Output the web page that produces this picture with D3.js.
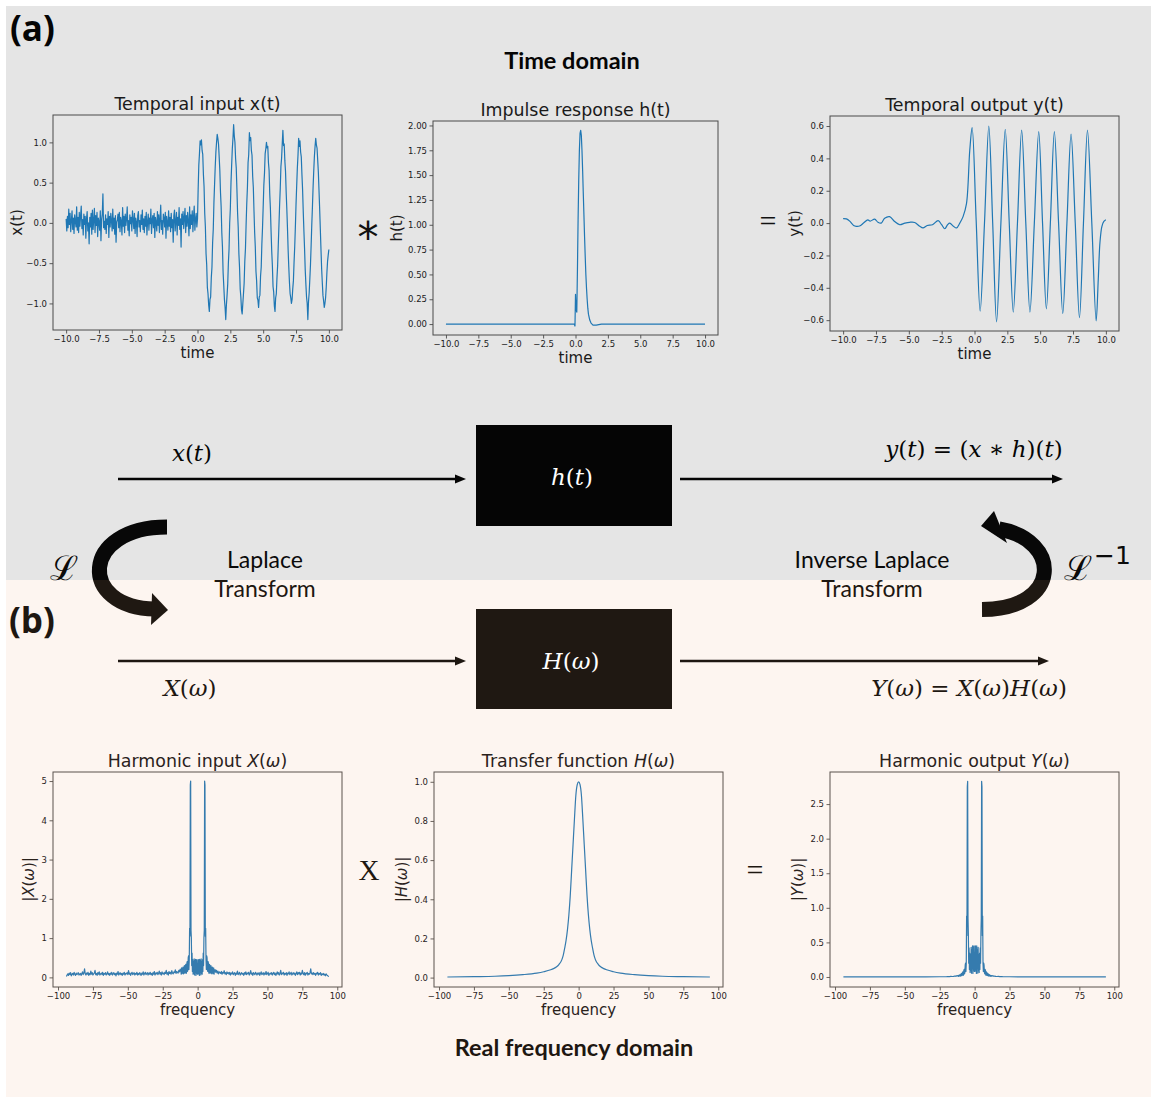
<!DOCTYPE html>
<html><head><meta charset="utf-8">
<script src="https://cdn.jsdelivr.net/npm/d3@7"></script>
<style>body{margin:0;background:#fff}svg{display:block}</style>
</head><body>
<svg id="c" width="1151" height="1097"></svg>
<script>
// ---------------- DATA ----------------
// x(t): sampled every 0.05 from t = -10 to 10
const T_START = -10, T_STEP = 0.05;
const xNoise = [
0.05,-0.10,0.08,-0.06,0.17,-0.02,0.12,-0.11,0.03,0.15,-0.08,0.06,-0.13,0.10,0.02,-0.05,0.20,-0.09,0.07,-0.12,
0.13,-0.04,0.09,0.21,-0.07,0.04,-0.15,0.11,-0.02,0.08,-0.19,0.05,0.14,-0.10,0.00,-0.26,0.07,-0.05,0.12,-0.14,
0.16,-0.08,0.03,0.18,-0.12,0.09,-0.03,0.13,-0.17,0.06,0.01,-0.09,0.15,-0.22,0.04,0.11,0.36,-0.06,0.02,-0.08,
0.10,-0.13,0.05,-0.02,0.14,-0.18,0.08,-0.05,0.12,0.03,-0.10,0.17,-0.07,0.06,-0.14,0.09,-0.24,0.01,0.04,0.11,
-0.06,0.13,-0.11,0.07,0.02,-0.15,0.19,-0.04,0.08,-0.12,0.11,-0.03,0.05,0.20,-0.09,0.03,-0.16,0.10,-0.01,0.07,
-0.10,0.15,0.04,-0.07,0.12,-0.13,0.06,0.01,-0.17,0.09,0.14,-0.05,0.03,-0.11,0.10,-0.02,0.16,-0.08,0.05,-0.12,
0.08,-0.04,0.13,-0.15,0.02,0.11,-0.09,0.06,-0.01,0.17,-0.13,0.04,0.09,-0.06,0.12,-0.18,0.07,0.01,-0.10,0.14,
-0.03,0.10,-0.12,0.05,0.22,-0.08,0.03,-0.14,0.11,0.06,-0.05,0.13,-0.19,0.08,0.00,-0.09,0.15,-0.04,0.07,-0.11,
0.12,-0.06,0.04,-0.24,0.09,0.16,-0.10,0.02,0.13,-0.15,0.07,-0.03,0.19,-0.08,0.05,-0.30,0.11,-0.02,0.14,-0.07,
0.06,0.18,-0.12,0.09,-0.04,0.13,0.02,-0.16,0.20,-0.07,0.10,-0.02,0.15,-0.11,0.08,0.21,-0.09,0.04,0.12,-0.05];
const xSignal = [
0.05,0.42,0.72,0.86,1.02,0.97,1.03,0.90,0.85,0.60,0.45,0.12,-0.05,-0.38,-0.52,-0.80,-0.88,-1.02,-1.10,-0.95,-0.92,-0.68,-0.55,-0.25,-0.08,
0.25,0.48,0.70,0.88,1.00,1.10,1.05,0.98,0.82,0.65,0.38,0.20,-0.12,-0.30,-0.62,-0.78,-0.95,-1.05,-1.20,-1.02,-0.90,-0.76,-0.50,-0.33,0.00,
0.18,0.50,0.72,0.92,1.05,1.22,1.08,1.00,0.80,0.68,0.42,0.13,-0.06,-0.38,-0.55,-0.82,-0.92,-1.08,-1.13,-1.00,-0.88,-0.75,-0.48,-0.32,-0.02,
0.24,0.44,0.75,0.85,1.12,1.02,1.06,0.90,0.84,0.58,0.44,0.15,-0.12,-0.30,-0.60,-0.72,-0.93,-0.96,-1.05,-0.92,-0.90,-0.66,-0.55,-0.26,-0.06,
0.20,0.47,0.62,0.86,0.92,1.00,0.93,0.95,0.75,0.65,0.36,0.18,-0.10,-0.35,-0.53,-0.79,-0.86,-1.03,-1.10,-0.93,-0.88,-0.68,-0.53,-0.27,-0.03,
0.22,0.43,0.70,0.80,0.98,1.15,0.96,0.98,0.77,0.64,0.38,0.17,-0.07,-0.34,-0.55,-0.74,-0.88,-0.93,-1.00,-0.95,-0.82,-0.72,-0.49,-0.30,-0.05,
0.23,0.46,0.68,0.84,1.05,0.95,1.02,0.88,0.82,0.60,0.41,0.14,-0.10,-0.32,-0.58,-0.76,-0.92,-1.00,-1.20,-0.98,-0.87,-0.70,-0.52,-0.28,-0.02,
0.20,0.45,0.65,0.83,0.95,1.05,0.97,0.93,0.78,0.63,0.40,0.17,-0.08,-0.33,-0.57,-0.74,-0.90,-0.97,-1.05,-1.00,-0.93,-0.80,-0.62,-0.48,-0.40,
-0.33];

// h(t)
const hT = [-10,-0.1,-0.04,0.0,0.05,0.1,0.15,0.2,0.25,0.3,0.35,0.4,0.45,0.5,0.55,0.6,0.65,0.7,0.75,0.8,0.85,0.9,0.95,1.0,1.1,1.2,1.35,1.6,2.0,10];
const hV = [0,0,-0.02,0.3,0.14,0.12,0.55,1.05,1.45,1.75,1.92,1.95,1.9,1.75,1.55,1.32,1.1,0.88,0.68,0.5,0.36,0.25,0.16,0.1,0.04,0.01,-0.01,-0.01,0,0];

// y(t)
const yT = [-10,-9.75,-9.5,-9.2,-9.0,-8.75,-8.45,-8.12,-7.94,-7.6,-7.35,-7.1,-6.84,-6.46,-6.08,-5.7,-5.3,-4.94,-4.55,-4.17,
-3.92,-3.6,-3.2,-2.77,-2.5,-2.26,-2.05,-1.88,-1.6,-1.37,-1.12,-0.87,-0.61,-0.36,-0.18,
0.125,0.43,0.76,1.09,1.385,1.68,2.01,2.34,2.645,2.95,3.27,3.59,3.905,4.22,4.555,4.89,5.18,5.47,5.775,6.08,
6.4,6.72,7.035,7.35,7.67,7.99,8.295,8.6,8.93,9.26,9.42,9.55,9.7,9.85,10];
const yV = [0.028,0.026,0.012,-0.015,-0.02,-0.018,0.0,0.02,0.012,0.025,0.005,0.0,0.03,0.04,0.01,-0.01,0.0,0.005,0.004,-0.02,
-0.03,-0.015,-0.01,0.015,-0.01,-0.035,-0.01,0.0,-0.02,-0.03,0.0,0.04,0.12,0.45,0.59,
0.02,-0.545,0.0,0.6,0.0,-0.61,0.0,0.58,0.0,-0.55,0.0,0.575,0.0,-0.55,0.0,0.565,0.0,-0.53,0.0,0.565,
0.0,-0.56,0.0,0.55,0.0,-0.585,0.0,0.575,0.0,-0.605,-0.35,-0.12,-0.02,0.01,0.02];

// |X(w)|: tails sampled every 0.5, core (-12..12) every 0.25
const XW_NEG_START = -94, XW_POS_START = 12.5, XW_TAIL_STEP = 0.5;
const XW_CORE_START = -12, XW_CORE_STEP = 0.25;
const xwNegTail = [
0.02,0.06,0.09,0.05,0.11,0.07,0.12,0.04,0.08,0.10,0.06,0.13,0.08,0.05,0.11,0.07,0.09,0.12,0.06,0.08,
0.10,0.05,0.09,0.14,0.07,0.11,0.22,0.09,0.06,0.11,0.08,0.13,0.05,0.10,0.07,0.16,0.08,0.12,0.06,0.09,
0.11,0.18,0.07,0.10,0.05,0.12,0.08,0.14,0.06,0.09,0.11,0.07,0.13,0.05,0.10,0.08,0.12,0.06,0.09,0.14,
0.07,0.10,0.05,0.11,0.08,0.13,0.06,0.09,0.12,0.07,0.10,0.04,0.11,0.08,0.15,0.06,0.09,0.12,0.07,0.10,
0.05,0.11,0.08,0.13,0.06,0.10,0.09,0.12,0.07,0.17,0.08,0.11,0.05,0.10,0.13,0.07,0.09,0.12,0.06,0.10,
0.08,0.13,0.06,0.10,0.07,0.12,0.09,0.05,0.11,0.08,0.14,0.06,0.10,0.13,0.07,0.09,0.12,0.06,0.11,0.08,
0.13,0.07,0.10,0.05,0.12,0.08,0.15,0.06,0.11,0.09,0.13,0.07,0.10,0.16,0.08,0.12,0.06,0.14,0.09,0.11,
0.07,0.13,0.10,0.18,0.08,0.12,0.06,0.15,0.10,0.13,0.08,0.17,0.11,0.09,0.14,0.12,0.19,0.10,0.15,0.13,
0.11,0.18,0.14,0.21];
const xwCore = [
0.15,0.08,0.24,0.10,0.12,0.22,0.26,0.09, 0.10,0.25,0.30,0.11,0.14,0.28,0.33,0.10,
0.12,0.35,0.40,0.15,0.20,0.50,0.55,0.20, 0.45,1.25,1.05,4.90,5.00,1.20,1.00,0.30,
0.62,0.15,0.45,0.08,0.40,0.10,0.47,0.06, 0.42,0.12,0.46,0.05,0.44,0.10,0.45,0.08,
0.30,
0.08,0.45,0.10,0.44,0.05,0.46,0.12,0.42, 0.06,0.47,0.10,0.40,0.08,0.45,0.15,0.62,
0.30,1.00,1.20,5.00,4.90,1.05,1.25,0.45, 0.20,0.55,0.50,0.20,0.15,0.40,0.35,0.12,
0.10,0.33,0.28,0.14,0.11,0.30,0.25,0.10, 0.09,0.26,0.22,0.12,0.10,0.24,0.08,0.15];
const xwPosTail = [
0.20,0.13,0.18,0.11,0.16,0.09,0.14,0.12,0.10,0.15,0.08,0.13,0.11,0.17,0.09,0.12,0.07,0.14,0.10,0.12,
0.08,0.13,0.06,0.11,0.09,0.14,0.07,0.10,0.12,0.05,0.11,0.08,0.16,0.07,0.10,0.13,0.06,0.09,0.12,0.08,
0.10,0.05,0.12,0.08,0.14,0.07,0.11,0.09,0.13,0.06,0.10,0.17,0.08,0.11,0.05,0.12,0.09,0.07,0.13,0.10,
0.06,0.11,0.08,0.12,0.05,0.10,0.14,0.07,0.09,0.12,0.06,0.11,0.08,0.15,0.07,0.10,0.13,0.05,0.09,0.11,
0.08,0.12,0.06,0.10,0.13,0.07,0.11,0.05,0.09,0.14,0.08,0.12,0.06,0.10,0.18,0.07,0.11,0.09,0.13,0.06,
0.10,0.08,0.12,0.05,0.11,0.09,0.14,0.07,0.10,0.13,0.06,0.09,0.12,0.08,0.11,0.05,0.10,0.14,0.07,0.12,
0.09,0.13,0.06,0.11,0.08,0.18,0.10,0.07,0.12,0.05,0.11,0.09,0.13,0.06,0.10,0.08,0.12,0.22,0.09,0.11,
0.07,0.12,0.08,0.10,0.05,0.11,0.09,0.13,0.06,0.10,0.08,0.12,0.05,0.09,0.07,0.10,0.06,0.08,0.04,0.09,
0.06,0.05,0.03,0.02];

// |H(w)|
const hwF = [-94,-75,-60,-50,-40,-30,-25,-20,-18,-16,-14,-12,-11,-10,-9,-8,-7,-6,-5,-4,-3,-2,-1,0,
1,2,3,4,5,6,7,8,9,10,11,12,14,16,18,20,25,30,40,50,60,75,94];
const hwV = [0.003,0.005,0.007,0.01,0.015,0.023,0.03,0.04,0.046,0.054,0.068,0.092,0.115,0.15,0.19,0.245,0.32,0.42,0.55,0.68,0.81,0.93,0.985,1.0,
0.985,0.93,0.81,0.68,0.55,0.42,0.32,0.245,0.19,0.15,0.115,0.092,0.068,0.054,0.046,0.04,0.03,0.023,0.015,0.01,0.007,0.005,0.003];

// |Y(w)|: tails as (f, v) pairs, core (-12..12) every 0.25
const ywTailLF = [-94,-70,-50,-35,-25,-20,-19,-18,-17,-16,-15,-14.5,-14,-13.5,-13,-12.5];
const ywTailLV = [0,0.0005,0.001,0.002,0.003,0.004,0.006,0.005,0.008,0.007,0.008,0.012,0.010,0.015,0.012,0.020];
const YW_CORE_START = -12, YW_CORE_STEP = 0.25;
const ywCore = [
0.014,0.008,0.025,0.011,0.014,0.027,0.034,0.013, 0.015,0.042,0.051,0.020,0.027,0.060,0.073,0.024,
0.030,0.095,0.110,0.045,0.064,0.170,0.200,0.080, 0.190,0.880,0.600,2.750,2.830,0.850,0.620,0.200,
0.420,0.110,0.340,0.065,0.320,0.090,0.430,0.055, 0.390,0.115,0.450,0.050,0.430,0.100,0.450,0.080,
0.300,
0.080,0.450,0.100,0.430,0.050,0.450,0.115,0.390, 0.055,0.430,0.090,0.320,0.065,0.340,0.110,0.420,
0.200,0.620,0.850,2.830,2.750,0.600,0.880,0.190, 0.080,0.200,0.170,0.064,0.045,0.110,0.095,0.030,
0.024,0.073,0.060,0.027,0.020,0.051,0.042,0.015, 0.013,0.034,0.027,0.014,0.011,0.025,0.008,0.014];
const ywTailRF = [12.5,13,13.5,14,14.5,15,16,17,18,19,20,25,35,50,70,94];
const ywTailRV = [0.020,0.012,0.015,0.010,0.012,0.008,0.007,0.008,0.005,0.006,0.004,0.003,0.002,0.001,0.0005,0];

// tick values
const tTicks = [-10,-7.5,-5,-2.5,0,2.5,5,7.5,10];
const xtTicks = [-1,-0.5,0,0.5,1];
const htTicks = [0,0.25,0.5,0.75,1,1.25,1.5,1.75,2];
const ytTicks = [-0.6,-0.4,-0.2,0,0.2,0.4,0.6];
const fTicks = [-100,-75,-50,-25,0,25,50,75,100];
const xwTicks = [0,1,2,3,4,5];
const hwTicks = [0,0.2,0.4,0.6,0.8,1.0];
const ywTicks = [0,0.5,1,1.5,2,2.5];

// ---------------- BUILD SERIES ----------------
const xtData = xNoise.concat(xSignal).map((v,i)=>[T_START + i*T_STEP, v]);
const htData = hT.map((t,i)=>[t,hV[i]]);
const ytData = yT.map((t,i)=>[t,yV[i]]);
const xwData = xwNegTail.map((v,i)=>[XW_NEG_START + i*XW_TAIL_STEP, v])
  .concat(xwCore.map((v,i)=>[XW_CORE_START + i*XW_CORE_STEP, v]))
  .concat(xwPosTail.map((v,i)=>[XW_POS_START + i*XW_TAIL_STEP, v]));
const hwData = hwF.map((f,i)=>[f,hwV[i]]);
const ywData = ywTailLF.map((f,i)=>[f,ywTailLV[i]])
  .concat(ywCore.map((v,i)=>[YW_CORE_START + i*YW_CORE_STEP, v]))
  .concat(ywTailRF.map((f,i)=>[f,ywTailRV[i]]));

// ---------------- DRAW ----------------
const W = 1151, H = 1097;
const svg = d3.select("#c");
const defs = svg.append("defs");
const grad = defs.append("linearGradient").attr("id","arcGrad")
  .attr("gradientUnits","userSpaceOnUse").attr("x1",0).attr("y1",0).attr("x2",0).attr("y2",H);
grad.append("stop").attr("offset",580/H).attr("stop-color","#080808");
grad.append("stop").attr("offset",580/H).attr("stop-color","#1f1812");

svg.append("rect").attr("width",W).attr("height",H).attr("fill","#ffffff");
svg.append("rect").attr("x",6).attr("y",6).attr("width",W-6).attr("height",574).attr("fill","#e5e5e5");
svg.append("rect").attr("x",6).attr("y",580).attr("width",W-6).attr("height",H-580).attr("fill","#fdf5f0");

const TOP = {ink:"#1a1a1a", spine:"#4a4a4a", line:"#1f77b4"};
const BOT = {ink:"#2a221c", spine:"#5a524c", line:"#357bae"};

function addParts(textSel, parts){
  parts.forEach(p=>{
    const ts = textSel.append("tspan").text(p[0]);
    if(p[1]) ts.attr("font-style","italic");
  });
}

function panel(o){
  const g = svg.append("g");
  const x = d3.scaleLinear().domain(o.xd).range([o.l,o.r]);
  const y = d3.scaleLinear().domain(o.yd).range([o.b,o.t]);
  const ax = g.append("g").attr("transform",`translate(0,${o.b})`)
    .call(d3.axisBottom(x).tickValues(o.xt).tickFormat(o.xf).tickSize(3.5).tickPadding(2.5));
  const ay = g.append("g").attr("transform",`translate(${o.l},0)`)
    .call(d3.axisLeft(y).tickValues(o.yt).tickFormat(o.yf).tickSize(3.5).tickPadding(2.5));
  [ax,ay].forEach(a=>{
    a.select(".domain").remove();
    a.selectAll("line").attr("stroke",o.c.spine).attr("stroke-width",0.9);
    a.selectAll("text").attr("fill",o.c.ink).style("font-family","DejaVu Sans").style("font-size","8.5px");
  });
  g.append("path").datum(o.data)
    .attr("d", d3.line().x(d=>x(d[0])).y(d=>y(d[1])).curve(o.curve || d3.curveLinear))
    .attr("fill","none").attr("stroke",o.c.line).attr("stroke-width",1.2).attr("stroke-linejoin","round");
  g.append("rect").attr("x",o.l).attr("y",o.t).attr("width",o.r-o.l).attr("height",o.b-o.t)
    .attr("fill","none").attr("stroke",o.c.spine).attr("stroke-width",1);
  const title = g.append("text").attr("x",(o.l+o.r)/2).attr("y",o.t-5).attr("text-anchor","middle")
    .style("font-family","DejaVu Sans").style("font-size","17.4px").attr("fill",o.c.ink);
  addParts(title,o.title);
  g.append("text").attr("x",(o.l+o.r)/2).attr("y",o.b+28).attr("text-anchor","middle")
    .style("font-family","DejaVu Sans").style("font-size","15px").attr("fill",o.c.ink).text(o.xlabel);
  const yl = g.append("text").attr("transform",`translate(${o.l-o.yoff},${(o.t+o.b)/2}) rotate(-90)`)
    .attr("text-anchor","middle").style("font-family","DejaVu Sans").style("font-size","15px").attr("fill",o.c.ink);
  addParts(yl,o.ylabel);
}

const f1 = d3.format(".1f"), f2 = d3.format(".2f"), fd = d3.format("d");

panel({l:53,t:115,r:342,b:330,xd:[-11,11],yd:[-1.33,1.34],xt:tTicks,yt:xtTicks,xf:f1,yf:f1,
  data:xtData,c:TOP,title:[["Temporal input x(t)",false]],xlabel:"time",ylabel:[["x(t)",false]],yoff:31});
panel({l:433,t:121,r:718,b:335,xd:[-11,11],yd:[-0.11,2.045],xt:tTicks,yt:htTicks,xf:f1,yf:f2,
  data:htData,c:TOP,title:[["Impulse response h(t)",false]],xlabel:"time",ylabel:[["h(t)",false]],yoff:31});
panel({l:830,t:116,r:1119,b:331,xd:[-11,11],yd:[-0.667,0.662],xt:tTicks,yt:ytTicks,xf:f1,yf:f1,
  data:ytData,c:TOP,curve:d3.curveCatmullRom.alpha(0.5),title:[["Temporal output y(t)",false]],xlabel:"time",ylabel:[["y(t)",false]],yoff:30});

panel({l:53,t:772,r:342,b:987,xd:[-103.6,103.4],yd:[-0.245,5.23],xt:fTicks,yt:xwTicks,xf:fd,yf:fd,
  data:xwData,c:BOT,title:[["Harmonic input ",false],["X",true],["(",false],["ω",true],[")",false]],xlabel:"frequency",
  ylabel:[["|",false],["X",true],["(",false],["ω",true],[")|",false]],yoff:19});
panel({l:434,t:772,r:723,b:987,xd:[-103.6,103.4],yd:[-0.048,1.05],xt:fTicks,yt:hwTicks,xf:fd,yf:f1,
  data:hwData,c:BOT,curve:d3.curveMonotoneX,title:[["Transfer function ",false],["H",true],["(",false],["ω",true],[")",false]],xlabel:"frequency",
  ylabel:[["|",false],["H",true],["(",false],["ω",true],[")|",false]],yoff:27});
panel({l:830,t:772,r:1119,b:987,xd:[-103.6,103.4],yd:[-0.145,2.964],xt:fTicks,yt:ywTicks,xf:fd,yf:f1,
  data:ywData,c:BOT,title:[["Harmonic output ",false],["Y",true],["(",false],["ω",true],[")",false]],xlabel:"frequency",
  ylabel:[["|",false],["Y",true],["(",false],["ω",true],[")|",false]],yoff:27});

// ---------- headings ----------
function txt(x,y,s,opt){
  const t = svg.append("text").attr("x",x).attr("y",y).text(s)
    .attr("text-anchor",opt.anchor||"start").attr("fill",opt.fill||"#000")
    .style("font-family",opt.family||"Lato").style("font-size",opt.size+"px");
  if(opt.bold) t.style("font-weight","bold");
  return t;
}
txt(10,41,"(a)",{size:35,bold:true,family:"Open Sans",fill:"#050505"});
txt(9,633,"(b)",{size:35,bold:true,family:"Open Sans",fill:"#1e1711"});
txt(572,69,"Time domain",{size:23.5,bold:true,anchor:"middle",fill:"#050505"});
txt(574,1056,"Real frequency domain",{size:23.5,bold:true,anchor:"middle",fill:"#1e1711"});

// operators between plots
txt(368,252,"*",{size:42,family:"DejaVu Sans",anchor:"middle",fill:"#111"});
txt(768,231,"=",{size:30,family:"Liberation Serif",anchor:"middle",fill:"#111"});
txt(369,880,"X",{size:29,family:"Liberation Serif",anchor:"middle",fill:"#1e1711"});
txt(755,880,"=",{size:30,family:"Liberation Serif",anchor:"middle",fill:"#1e1711"});

// ---------- block diagram ----------
function arrow(x1,x2,y,color){
  svg.append("line").attr("x1",x1).attr("x2",x2-8).attr("y1",y).attr("y2",y)
    .attr("stroke",color).attr("stroke-width",2.6);
  svg.append("path").attr("d",`M${x2},${y} L${x2-11},${y-4.5} L${x2-11},${y+4.5} Z`).attr("fill",color);
}
arrow(118,466,479,"#050505");
arrow(680,1063,479,"#050505");
arrow(118,466,661,"#1e1711");
arrow(680,1049,661,"#1e1711");

svg.append("rect").attr("x",476).attr("y",425).attr("width",196).attr("height",101).attr("fill","#050505");
svg.append("rect").attr("x",476).attr("y",609).attr("width",196).attr("height",100).attr("fill","#1f1812");

function mtext(x,y,parts,size,fill,anchor){
  const t = svg.append("text").attr("x",x).attr("y",y).attr("text-anchor",anchor||"middle")
    .attr("fill",fill).style("font-family","DejaVu Serif").style("font-size",size+"px");
  addParts(t,parts);
  return t;
}
mtext(572,485,[["h",true],["(",false],["t",true],[")",false]],23,"#ffffff");
mtext(571,669,[["H",true],["(",false],["ω",true],[")",false]],23,"#ffffff");
mtext(192,461,[["x",true],["(",false],["t",true],[")",false]],23,"#050505");
mtext(190,696,[["X",true],["(",false],["ω",true],[")",false]],23,"#1e1711");
mtext(974,457,[["y",true],["(",false],["t",true],[") = (",false],["x",true],[" ∗ ",false],["h",true],[")(",false],["t",true],[")",false]],23,"#050505");
mtext(969,696,[["Y",true],["(",false],["ω",true],[") = ",false],["X",true],["(",false],["ω",true],[")",false],["H",true],["(",false],["ω",true],[")",false]],23,"#1e1711");

// transform labels
txt(265,568,"Laplace",{size:23,anchor:"middle",fill:"#0a0a0a"});
txt(265,597,"Transform",{size:23,anchor:"middle",fill:"#1e1711"});
txt(872,568,"Inverse Laplace",{size:23,anchor:"middle",fill:"#0a0a0a"});
txt(872,597,"Transform",{size:23,anchor:"middle",fill:"#1e1711"});

// curved arrows
svg.append("path").attr("d","M167,527 C80,527 78,608 155,609")
  .attr("fill","none").attr("stroke","url(#arcGrad)").attr("stroke-width",15);
svg.append("path").attr("d","M152,593 L168,610 L151,625 Z").attr("fill","#1f1812");
svg.append("path").attr("d","M982,609.5 C1062,609 1062,540 999,529")
  .attr("fill","none").attr("stroke","url(#arcGrad)").attr("stroke-width",15);
svg.append("path").attr("d","M981,526 L994,511 L1007,543 Z").attr("fill","#080808");

// Laplace symbols
txt(64,580,"ℒ",{size:34,family:"DejaVu Serif",anchor:"middle",fill:"#0a0a0a"});
txt(1078,580,"ℒ",{size:34,family:"DejaVu Serif",anchor:"middle",fill:"#0a0a0a"});
txt(1094,564,"−1",{size:25,family:"DejaVu Sans",fill:"#0a0a0a"});
</script>
</body></html>
